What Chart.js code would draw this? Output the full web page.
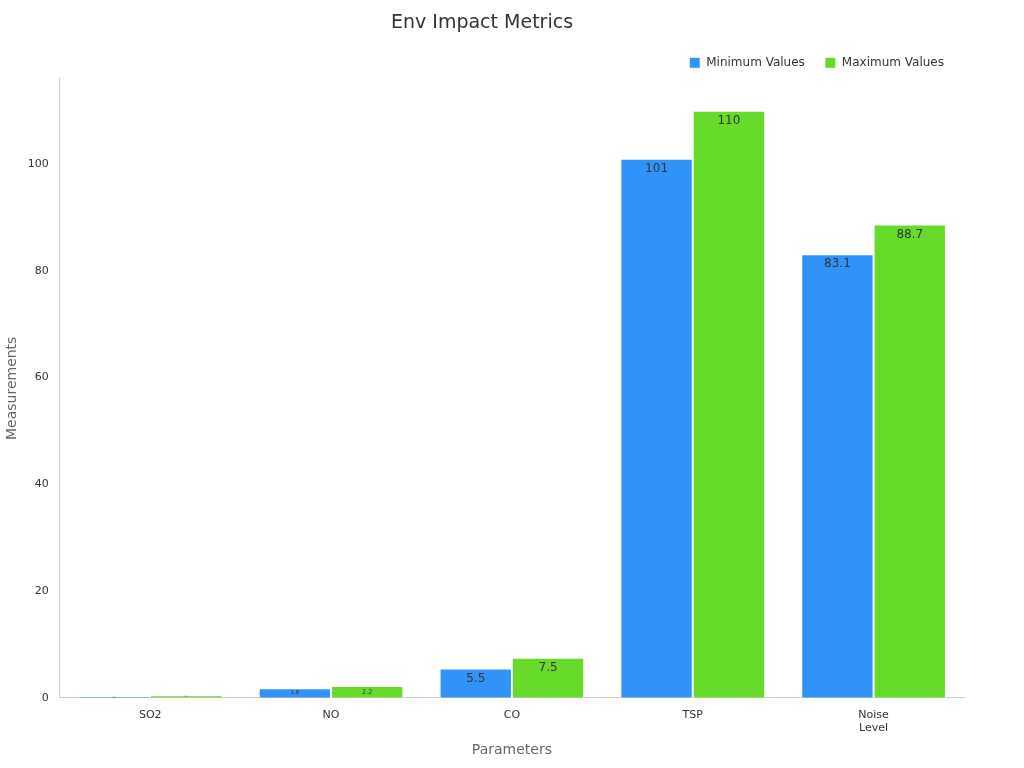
<!DOCTYPE html>
<html>
<head>
<script src="https://cdn.jsdelivr.net/npm/chart.js@4"></script>
<style>body{margin:0;background:#fff}</style>
</head>
<body>
<canvas id="myChart" width="1024" height="768"></canvas>
<script>
const categories = ['SO2', 'NO', 'CO', 'TSP', ['Noise', 'Level']];
const minValues = [0.3, 1.8, 5.5, 101, 83.1];
const maxValues = [0.5, 2.2, 7.5, 110, 88.7];

// value labels just inside the top of each bar, shrunk for tiny bars
const barLabels = {
  id: 'barLabels',
  afterDatasetsDraw(chart) {
    const ctx = chart.ctx;
    chart.data.datasets.forEach((ds, i) => {
      chart.getDatasetMeta(i).data.forEach((bar, j) => {
        const h = bar.base - bar.y;
        const size = Math.min(12, Math.max(2, h * 0.55));
        ctx.save();
        ctx.fillStyle = '#333';
        ctx.font = size + 'px "DejaVu Sans"';
        ctx.textAlign = 'center';
        ctx.textBaseline = 'middle';
        const y = h > 20 ? bar.y + 10 : bar.y + h / 2;
        ctx.fillText(String(ds.data[j]), bar.x, y);
        ctx.restore();
      });
    });
  }
};

new Chart(document.getElementById('myChart'), {
  type: 'bar',
  data: {
    labels: categories,
    datasets: [
      { label: 'Minimum Values', data: minValues, backgroundColor: '#3093f8', borderColor: '#fff', borderWidth: 1, categoryPercentage: 0.8, barPercentage: 1 },
      { label: 'Maximum Values', data: maxValues, backgroundColor: '#66db29', borderColor: '#fff', borderWidth: 1, categoryPercentage: 0.8, barPercentage: 1 }
    ]
  },
  options: {
    responsive: false,
    animation: false,
    layout: { padding: { left: 0, right: 60, top: 10, bottom: 5 } },
    plugins: {
      title: { display: true, text: 'Env Impact Metrics', color: '#333', font: { family: 'DejaVu Sans', size: 19, weight: 'normal' }, padding: { top: 2, bottom: 2 } },
      legend: {
        align: 'end',
        labels: { boxWidth: 11, boxHeight: 11, color: '#333', font: { family: 'DejaVu Sans', size: 12 }, padding: 20 }
      },
      tooltip: { enabled: false }
    },
    scales: {
      x: {
        grid: { display: false },
        border: { color: '#ccc' },
        ticks: { color: '#333', font: { family: 'DejaVu Sans', size: 11 } },
        title: { display: true, text: 'Parameters', color: '#666', font: { family: 'DejaVu Sans', size: 14 } }
      },
      y: {
        min: 0, max: 116,
        grid: { display: false },
        border: { color: '#ccc' },
        ticks: { stepSize: 20, color: '#333', font: { family: 'DejaVu Sans', size: 11 }, callback: v => v % 20 === 0 ? v : '' },
        title: { display: true, text: 'Measurements', color: '#666', font: { family: 'DejaVu Sans', size: 14 } }
      }
    }
  },
  plugins: [barLabels]
});
</script>
</body>
</html>
